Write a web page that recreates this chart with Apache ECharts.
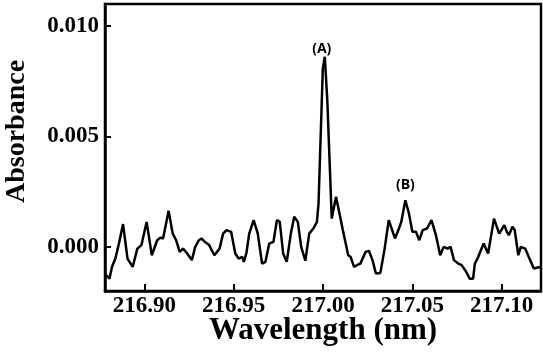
<!DOCTYPE html>
<html>
<head>
<meta charset="utf-8">
<script src="https://cdn.jsdelivr.net/npm/echarts@6/dist/echarts.min.js"></script>
<style>
html,body{margin:0;padding:0;background:#fff;}
#chart{width:543px;height:353px;}
</style>
</head>
<body>
<div id="chart"></div>
<script>
// Data
const wavelength = [
216.8786,216.8805,216.8819,216.8838,216.8858,216.8881,216.8906,216.8935,216.8961,216.8984,
216.9013,216.9042,216.9072,216.9091,216.9105,216.9136,216.9159,216.9178,216.9198,216.9217,
216.9237,216.9266,216.9285,216.9305,216.9320,216.9338,216.9363,216.9392,216.9421,216.9441,
216.9460,216.9486,216.9509,216.9528,216.9548,216.9557,216.9571,216.9587,216.9612,216.9635,
216.9659,216.9678,216.9699,216.9723,216.9742,216.9758,216.9777,216.9797,216.9820,216.9839,
216.9859,216.9878,216.9901,216.9923,216.9946,216.9966,216.9975,216.9999,217.0010,217.0024,
217.0049,217.0059,217.0073,217.0084,217.0111,217.0141,217.0154,217.0174,217.0189,217.0209,
217.0238,217.0257,217.0277,217.0296,217.0321,217.0345,217.0368,217.0387,217.0403,217.0422,
217.0438,217.0461,217.0481,217.0500,217.0520,217.0539,217.0558,217.0582,217.0607,217.0632,
217.0656,217.0675,217.0698,217.0714,217.0733,217.0757,217.0776,217.0801,217.0821,217.0840,
217.0850,217.0869,217.0899,217.0924,217.0957,217.0986,217.1015,217.1029,217.1040,217.1060,
217.1073,217.1093,217.1107,217.1132,217.1151,217.1180,217.1215
];
const absorbance = [
-0.00128,-0.00144,-0.00091,-0.00053,0.00015,0.00103,-0.00053,-0.00091,-0.00008,0.00008,
0.00113,-0.00038,0.00030,0.00042,0.00038,0.00163,0.00060,0.00030,-0.00023,-0.00008,
-0.00027,-0.00060,0.00000,0.00030,0.00038,0.00023,0.00008,-0.00038,-0.00008,0.00060,
0.00076,0.00068,-0.00030,-0.00053,-0.00045,-0.00068,-0.00030,0.00060,0.00121,0.00060,
-0.00076,-0.00068,0.00015,0.00023,0.00121,0.00113,-0.00030,-0.00068,0.00060,0.00136,
0.00113,0.00000,-0.00063,0.00060,0.00083,0.00113,0.00196,0.00808,0.00861,0.00665,
0.00128,0.00136,0.00227,0.00224,0.00076,-0.00038,-0.00045,-0.00091,-0.00083,-0.00076,
-0.00023,-0.00018,-0.00060,-0.00121,-0.00118,-0.00008,0.00121,0.00076,0.00038,0.00076,
0.00113,0.00211,0.00151,0.00068,0.00068,0.00030,0.00076,0.00083,0.00121,0.00053,
-0.00038,0.00000,-0.00008,0.00000,-0.00060,-0.00076,-0.00083,-0.00113,-0.00144,-0.00144,
-0.00076,-0.00045,0.00015,-0.00030,0.00128,0.00060,0.00098,0.00068,0.00053,0.00091,
0.00076,-0.00038,0.00000,-0.00008,-0.00045,-0.00098,-0.00091
];
const xTicks = [216.90, 216.95, 217.00, 217.05, 217.10];
const yTicks = [0.000, 0.005, 0.010];
const peakLabels = ['(A)', '(B)'];
const peakIndex = [58, 81];

const seriesData = wavelength.map((w, i) => [w, absorbance[i]]);
const serif = '"Liberation Serif", "Times New Roman", serif';

const chart = echarts.init(document.getElementById('chart'), null, {renderer: 'canvas'});
chart.setOption({
  animation: false,
  backgroundColor: '#fff',
  grid: {left: 105, right: 2, top: 4, bottom: 62, show: true, borderColor: '#000', borderWidth: 2.5,
    containLabel: false, outerBoundsMode: 'none'},
  xAxis: {
    type: 'value', min: 216.878, max: 217.122,
    name: 'Wavelength (nm)', nameLocation: 'middle', nameGap: 24, nameMoveOverlap: false,
    nameTextStyle: {fontFamily: serif, fontWeight: 'bold', fontSize: 31, color: '#000'},
    axisLine: {show: true, onZero: false, lineStyle: {color: '#000', width: 2.5}},
    axisTick: {show: true, inside: true, length: 7, customValues: xTicks, lineStyle: {color: '#000', width: 2}},
    axisLabel: {customValues: xTicks, margin: 4, fontFamily: serif, fontWeight: 'bold', fontSize: 23, color: '#000',
      formatter: v => v.toFixed(2)},
    splitLine: {show: false}
  },
  yAxis: {
    type: 'value', min: -0.002, max: 0.011,
    name: 'Absorbance', nameLocation: 'middle', nameGap: 74, nameMoveOverlap: false,
    nameTextStyle: {fontFamily: serif, fontWeight: 'bold', fontSize: 28, color: '#000', padding: [0, 0, 0, 32]},
    axisLine: {show: true, onZero: false, lineStyle: {color: '#000', width: 2.5}},
    axisTick: {show: true, inside: true, length: 6, customValues: yTicks, lineStyle: {color: '#000', width: 2}},
    axisLabel: {customValues: yTicks, margin: 6, fontFamily: serif, fontWeight: 'bold', fontSize: 23, color: '#000',
      formatter: v => v.toFixed(3)},
    splitLine: {show: false}
  },
  series: [{
    type: 'line', data: seriesData, showSymbol: false, symbol: 'none', smooth: false,
    lineStyle: {color: '#000', width: 2.5},
    markPoint: {
      symbol: 'circle', symbolSize: 0,
      label: {show: true, position: 'top', distance: 1, fontFamily: '"Open Sans", "Noto Sans", sans-serif', fontWeight: 'bold', fontSize: 14, color: '#000',
        formatter: p => p.name},
      data: [
        {name: peakLabels[0], coord: seriesData[peakIndex[0]], label: {offset: [-3, 0]}},
        {name: peakLabels[1], coord: seriesData[peakIndex[1]], label: {distance: 8}}
      ]
    }
  }]
});
</script>
</body>
</html>
